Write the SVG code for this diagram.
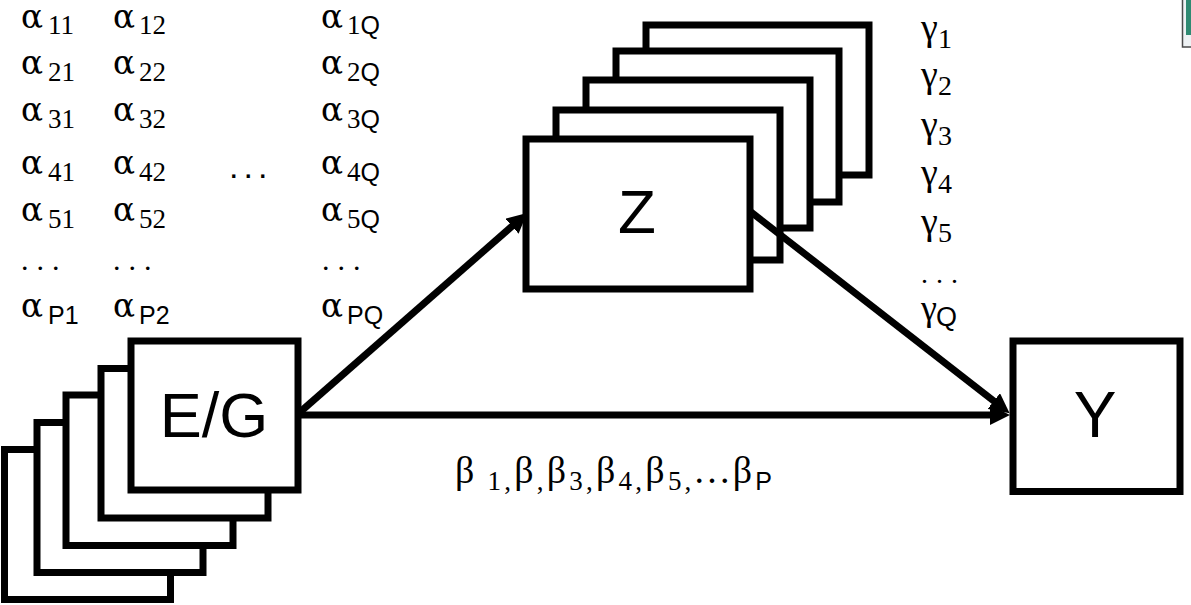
<svg xmlns="http://www.w3.org/2000/svg" width="1191" height="605" viewBox="0 0 1191 605">
  <style>
    .box { fill: #ffffff; stroke: #000000; stroke-width: 7; }
    .lbl { font-family: "Liberation Sans", Arial, sans-serif; font-size: 62px; fill: #000; text-anchor: middle; }
    .gr { font-family: "Liberation Serif", "Times New Roman", serif; font-size: 36px; fill: #000; }
    .al { font-family: "DejaVu Serif", "Liberation Serif", serif; font-size: 34px; fill: #000; }
    .sub { font-family: "Liberation Serif", "Times New Roman", serif; font-size: 27px; fill: #000; }
    .ss { font-family: "Liberation Sans", Arial, sans-serif; font-size: 25px; }
    .dots { font-family: "Liberation Serif", "Times New Roman", serif; font-size: 30px; letter-spacing: 8px; fill: #000; }
    .edge { fill: none; stroke: #000; stroke-width: 7; marker-end: url(#head); }
  </style>
  <defs>
    <marker id="head" markerUnits="userSpaceOnUse" markerWidth="22" markerHeight="20" refX="4" refY="10" orient="auto">
      <path d="M0,0 L20,10 L0,20 Z" fill="#000"/>
    </marker>
  </defs>

  <rect width="1191" height="605" fill="#ffffff"/>

  <!-- small window fragment at the top-right edge -->
  <g id="corner-fragment">
    <rect x="1182.5" y="-2" width="12" height="49" fill="#eef2f4" stroke="#4a4a4a" stroke-width="1.5"/>
    <rect x="1186" y="0" width="5" height="35" fill="#2f8a72"/>
  </g>

  <!-- coefficient matrix alpha: wide alpha glyphs, then the indices -->
  <g id="alpha-matrix">
    <g class="al">
      <text x="21" y="28" textLength="22" lengthAdjust="spacingAndGlyphs">α</text>
      <text x="113" y="28" textLength="22" lengthAdjust="spacingAndGlyphs">α</text>
      <text x="321" y="28" textLength="22" lengthAdjust="spacingAndGlyphs">α</text>
      <text x="21" y="74" textLength="22" lengthAdjust="spacingAndGlyphs">α</text>
      <text x="113" y="74" textLength="22" lengthAdjust="spacingAndGlyphs">α</text>
      <text x="321" y="74" textLength="22" lengthAdjust="spacingAndGlyphs">α</text>
      <text x="21" y="121" textLength="22" lengthAdjust="spacingAndGlyphs">α</text>
      <text x="113" y="121" textLength="22" lengthAdjust="spacingAndGlyphs">α</text>
      <text x="321" y="121" textLength="22" lengthAdjust="spacingAndGlyphs">α</text>
      <text x="21" y="174" textLength="22" lengthAdjust="spacingAndGlyphs">α</text>
      <text x="113" y="174" textLength="22" lengthAdjust="spacingAndGlyphs">α</text>
      <text x="321" y="174" textLength="22" lengthAdjust="spacingAndGlyphs">α</text>
      <text x="21" y="221" textLength="22" lengthAdjust="spacingAndGlyphs">α</text>
      <text x="113" y="221" textLength="22" lengthAdjust="spacingAndGlyphs">α</text>
      <text x="321" y="221" textLength="22" lengthAdjust="spacingAndGlyphs">α</text>
      <text x="21" y="317" textLength="22" lengthAdjust="spacingAndGlyphs">α</text>
      <text x="113" y="317" textLength="22" lengthAdjust="spacingAndGlyphs">α</text>
      <text x="321" y="317" textLength="22" lengthAdjust="spacingAndGlyphs">α</text>
    </g>
    <g class="sub">
      <text x="48" y="34">11</text>
      <text x="139" y="34">12</text>
      <text x="347" y="34">1<tspan class="ss">Q</tspan></text>
      <text x="48" y="81">21</text>
      <text x="139" y="81">22</text>
      <text x="347" y="81">2<tspan class="ss">Q</tspan></text>
      <text x="48" y="128">31</text>
      <text x="139" y="128">32</text>
      <text x="347" y="128">3<tspan class="ss">Q</tspan></text>
      <text x="48" y="181">41</text>
      <text x="139" y="181">42</text>
      <text x="347" y="181">4<tspan class="ss">Q</tspan></text>
      <text x="48" y="228">51</text>
      <text x="139" y="228">52</text>
      <text x="347" y="228">5<tspan class="ss">Q</tspan></text>
      <text class="ss" x="48" y="324">P1</text>
      <text class="ss" x="139" y="324">P2</text>
      <text class="ss" x="347" y="324">PQ</text>
    </g>
    <text x="229" y="178" style="font-family:'Liberation Sans',Arial,sans-serif;font-size:34px;letter-spacing:5px">...</text>
    <text class="dots" x="21" y="270">...</text>
    <text class="dots" x="113" y="270">...</text>
    <text class="dots" x="322" y="270">...</text>
  </g>

  <!-- coefficients gamma -->
  <g id="gamma-column" class="gr" style="font-size:38px">
    <text x="921" y="40">γ<tspan class="sub" style="font-size:28px" x="938" y="48">1</tspan></text>
    <text x="921" y="87">γ<tspan class="sub" style="font-size:28px" x="938" y="95">2</tspan></text>
    <text x="921" y="137">γ<tspan class="sub" style="font-size:28px" x="938" y="145">3</tspan></text>
    <text x="921" y="185">γ<tspan class="sub" style="font-size:28px" x="938" y="193">4</tspan></text>
    <text x="921" y="234">γ<tspan class="sub" style="font-size:28px" x="938" y="242">5</tspan></text>
    <text class="dots" x="921" y="283" style="font-size:28px">...</text>
    <text x="921" y="320" style="font-size:36px">γ<tspan class="ss" style="font-size:27px" x="936" y="326">Q</tspan></text>
  </g>

  <!-- mediator stack Z (back to front) -->
  <g id="node-Z">
    <rect class="box" x="646" y="25" width="223" height="150"/>
    <rect class="box" x="616" y="51" width="223" height="151"/>
    <rect class="box" x="586" y="80" width="224" height="148"/>
    <rect class="box" x="556" y="110" width="224" height="150"/>
    <rect class="box" x="526" y="139" width="224" height="150"/>
    <text class="lbl" x="637" y="233">Z</text>
  </g>

  <!-- exposure stack E/G (back to front) -->
  <g id="node-EG">
    <rect class="box" x="4.5" y="449.5" width="166" height="150"/>
    <rect class="box" x="37" y="422.5" width="166" height="150"/>
    <rect class="box" x="66" y="395" width="167" height="150.5"/>
    <rect class="box" x="101" y="368.5" width="167" height="149.5"/>
    <rect class="box" x="131" y="341" width="167" height="149"/>
    <text class="lbl" x="214" y="437" style="font-size:63px">E/G</text>
  </g>

  <!-- outcome Y -->
  <g id="node-Y">
    <rect class="box" x="1013" y="341" width="167" height="150.5"/>
    <text class="lbl" x="1095" y="437" style="font-size:64px">Y</text>
  </g>

  <!-- connectors -->
  <g id="connectors">
    <line class="edge" x1="299" y1="413" x2="515" y2="223.6"/>
    <line class="edge" x1="751" y1="212" x2="997" y2="403.5"/>
    <line class="edge" x1="298" y1="415" x2="994" y2="415"/>
  </g>

  <!-- direct-effect coefficients -->
  <text id="beta-label" class="gr" x="455" y="483" textLength="317" lengthAdjust="spacing" style="font-size:38px">β<tspan class="sub" dy="7"> 1,</tspan><tspan dy="-7">β</tspan><tspan class="sub" dy="7">,</tspan><tspan dy="-7">β</tspan><tspan class="sub" dy="7">3,</tspan><tspan dy="-7">β</tspan><tspan class="sub" dy="7">4,</tspan><tspan dy="-7">β</tspan><tspan class="sub" dy="7">5,</tspan><tspan dy="-7">...β</tspan><tspan class="ss" dy="7">P</tspan></text>
</svg>
